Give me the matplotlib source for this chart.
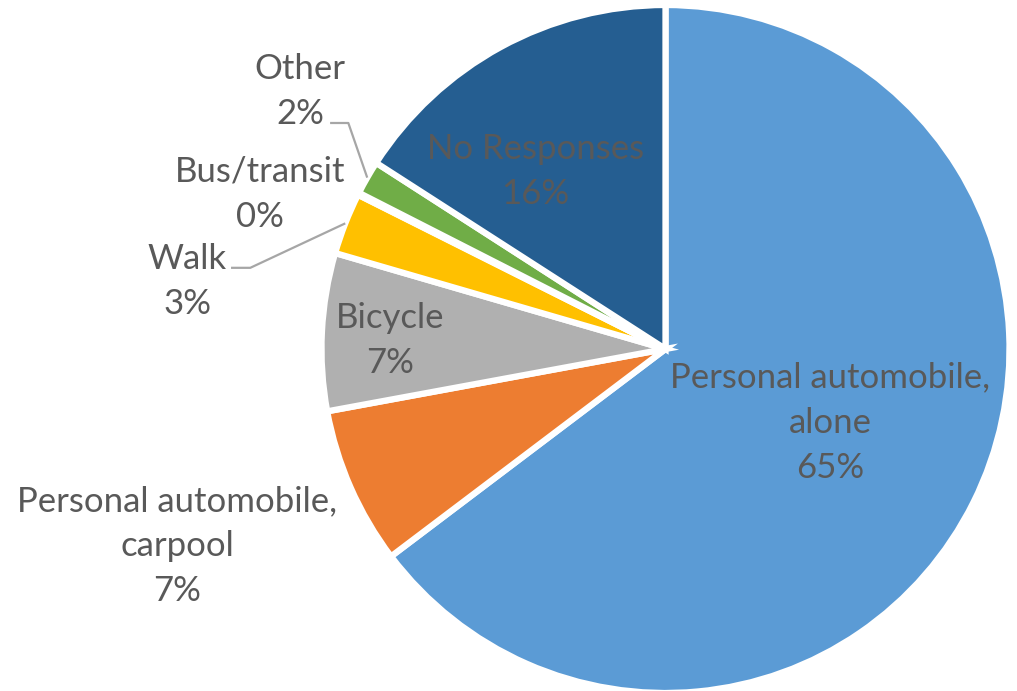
import numpy as np
import matplotlib.pyplot as plt

# Commute mode shares (percent), clockwise from 12 o'clock
modes = ["Personal automobile,\nalone", "Personal automobile,\ncarpool", "Bicycle",
         "Walk", "Bus/transit", "Other", "No Responses"]
shares = [64.7, 7.4, 7.4, 2.9, 0.1, 1.6, 15.9]
colors = ["#5B9BD5", "#ED7D31", "#B0B0B0", "#FFC000", "#4472C4", "#70AD47", "#255E91"]

# pixel scale of the pie (px per unit radius) and its centre
scale = 344
cx, cy = 665.5, 349

# label centres in pie units (radius = 1)
label_xy = [(0.478, -0.214), (-1.420, -0.572), (-0.800, 0.026),
            (-1.390, 0.196), (-1.178, 0.450), (-1.062, 0.748), (-0.378, 0.516)]
# leader lines: (start, elbow) for the small outside labels
leaders = {3: [(-1.263, 0.236), (-1.207, 0.236)],
           5: [(-0.975, 0.657), (-0.922, 0.657)]}

plt.rcParams['font.family'] = ['Lato', 'DejaVu Sans']
text_color = "#595959"

fig = plt.figure(figsize=(10.17, 6.91), dpi=100)
ax = fig.add_axes([0, 0, 1, 1])

wedges, _ = ax.pie(shares, colors=colors, startangle=90, counterclock=False,
                   radius=1.0, wedgeprops=dict(edgecolor="white", linewidth=4.5))

for i, (w, name, val) in enumerate(zip(wedges, modes, shares)):
    x, y = label_xy[i]
    ax.text(x, y, f"{name}\n{val:.0f}%", ha="center", va="center",
            fontsize=25, color=text_color, linespacing=1.5)
    if i in leaders:
        mid = np.deg2rad((w.theta1 + w.theta2) / 2)
        pts = leaders[i] + [(np.cos(mid), np.sin(mid))]
        xs, ys = zip(*pts)
        ax.plot(xs, ys, color="#A6A6A6", lw=1.6, solid_capstyle="butt")

ax.set_xlim(-cx / scale, (1017 - cx) / scale)
ax.set_ylim((cy - 691) / scale, cy / scale)
ax.set_aspect("equal")
ax.axis("off")

fig.savefig("out.png", dpi=100)
